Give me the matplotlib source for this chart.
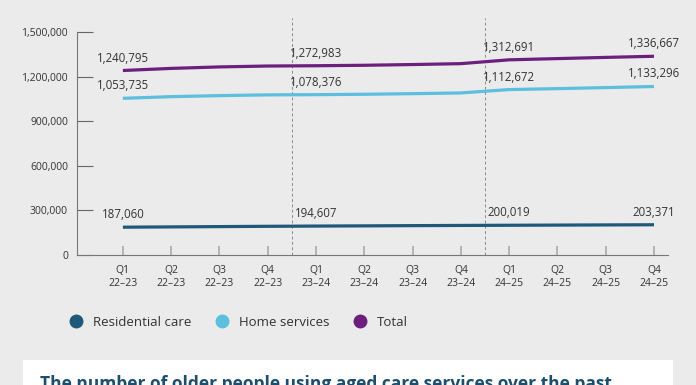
import matplotlib
matplotlib.use('Agg')
import matplotlib.pyplot as plt
from matplotlib.lines import Line2D
from matplotlib.patches import Rectangle

plt.rcParams['font.family'] = ['Open Sans', 'DejaVu Sans']

quarters = ['Q1\n22–23', 'Q2\n22–23', 'Q3\n22–23', 'Q4\n22–23',
            'Q1\n23–24', 'Q2\n23–24', 'Q3\n23–24', 'Q4\n23–24',
            'Q1\n24–25', 'Q2\n24–25', 'Q3\n24–25', 'Q4\n24–25']

residential = [187060, 189000, 191000, 193000, 194607, 196000,
               197500, 198800, 200019, 201200, 202300, 203371]
home = [1053735, 1065000, 1072000, 1077000, 1078376, 1081000,
        1085000, 1090000, 1112672, 1119000, 1126000, 1133296]
total = [1240795, 1255000, 1265000, 1271000, 1272983, 1276000,
         1281000, 1287000, 1312691, 1321000, 1329000, 1336667]

labelled = [0, 4, 8, 11]
yticks = [0, 300000, 600000, 900000, 1200000, 1500000]

bg = '#ebebeb'
c_res = '#1f5878'
c_home = '#5bbfdd'
c_total = '#6c1f7d'
text_col = '#333333'

fig = plt.figure(figsize=(6.96, 3.85), dpi=100, facecolor=bg)
ax = fig.add_axes([77 / 696, 130 / 385, 591 / 696, 237 / 385])
ax.set_facecolor(bg)

x = list(range(len(quarters)))
for vals, col in [(residential, c_res), (home, c_home), (total, c_total)]:
    ax.plot(x, vals, color=col, lw=2.3, solid_capstyle='butt', zorder=3)
    for i in labelled:
        ax.annotate(f'{vals[i]:,}', (x[i], vals[i]), xytext=(0, 9),
                    textcoords='offset points', ha='center', va='center',
                    fontsize=8.3, color=text_col, zorder=4)

for xv in [3.5, 7.5]:
    ax.axvline(xv, color='#8a8a8a', lw=0.7, ls=(0, (3, 2.5)), zorder=2)

ax.set_xlim(-0.95, 11.29)
ax.set_ylim(0, 1594000)
ax.set_xticks(x)
ax.set_xticklabels(quarters, fontsize=7.5, color=text_col, linespacing=1.25)
ax.set_yticks(yticks)
ax.set_yticklabels([f'{v:,}' for v in yticks], fontsize=7.5, color=text_col)

for s in ['top', 'right']:
    ax.spines[s].set_visible(False)
ax.spines['left'].set_bounds(0, 1500000)
ax.spines['left'].set_color('#777777')
ax.spines['bottom'].set_color('#777777')
ax.tick_params(axis='y', direction='in', length=11.5, width=0.8,
               color='#666666', pad=6.5)
ax.tick_params(axis='x', direction='in', length=6.5, width=1.2,
               color='#aaaaaa', pad=7)

handles = [Line2D([], [], ls='none', marker='o', ms=9, color=c)
           for c in [c_res, c_home, c_total]]
fig.legend(handles, ['Residential care', 'Home services', 'Total'],
           loc='center left', bbox_to_anchor=(69.5 / 696, 1 - 322 / 385),
           ncol=3, frameon=False, fontsize=9.5, handlelength=1,
           handletextpad=0.8, columnspacing=1.8, labelcolor=text_col,
           borderpad=0, borderaxespad=0)

fig.patches.append(Rectangle((23 / 696, -0.1), 650 / 696, 0.1 + 25 / 385,
                             transform=fig.transFigure, facecolor='white',
                             edgecolor='none', zorder=0))
fig.text(40 / 696, 1 - 375 / 385,
         'The number of older people using aged care services over the past',
         fontsize=12.5, fontweight='bold', color='#1d4e6c', va='top', ha='left')

fig.savefig('out.png', dpi=100, facecolor=bg)
